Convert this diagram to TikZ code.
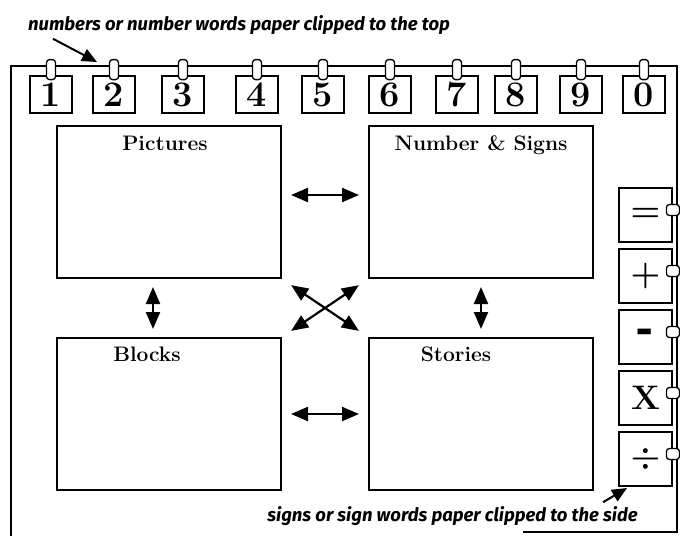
\documentclass[tikz,border=0pt]{standalone}
\usepackage{fontspec}
\newfontfamily\notefont{Fira Sans}
\usetikzlibrary{arrows.meta, positioning}

\begin{document}
\begin{tikzpicture}[x=1pt,y=-1pt,>={Triangle[length=17pt,width=14pt]}]
    \tikzstyle{panel}=[shape=rectangle,draw,line width=2pt,minimum width=224pt,minimum height=152pt,inner sep=0pt]
    \tikzstyle{title}=[font=\fontsize{21}{21}\selectfont\bfseries,inner sep=0pt,anchor=base]
    \tikzstyle{digit}=[shape=rectangle,draw,line width=1.8pt,minimum width=42pt,minimum height=37pt,inner sep=0pt,font=\fontsize{36}{36}\selectfont\bfseries]
    \tikzstyle{sign}=[shape=rectangle,draw,line width=1.8pt,minimum width=53pt,minimum height=54pt,inner sep=0pt,font=\fontsize{34}{34}\selectfont\bfseries]
    \tikzstyle{topclip}=[shape=rectangle,draw,fill=white,rounded corners=3pt,line width=1.3pt,minimum width=9pt,minimum height=20pt,inner sep=0pt]
    \tikzstyle{sideclip}=[shape=rectangle,draw,fill=white,rounded corners=3pt,line width=1.3pt,minimum width=13pt,minimum height=11pt,inner sep=0pt]
    \tikzstyle{link}=[<->,line width=2.2pt,shorten <=9pt,shorten >=9pt]
    \tikzstyle{note}=[font=\notefont\bfseries\itshape\fontsize{18.5}{18.5}\selectfont,inner sep=0pt]

    \useasboundingbox (0,0) rectangle (680,536);

    % the board
    \draw[line width=2pt] (11,536) -- (11,66) -- (677,66) -- (677,532) -- (523,532);

    % numbers on top
    \node[digit] (d1) at (51,94.5) {1};
    \node[digit] (d2) at (114,94.5) {2};
    \node[digit] (d3) at (183,94.5) {3};
    \node[digit] (d4) at (257,94.5) {4};
    \node[digit] (d5) at (323,94.5) {5};
    \node[digit] (d6) at (390,94.5) {6};
    \node[digit] (d7) at (457,94.5) {7};
    \node[digit] (d8) at (516,94.5) {8};
    \node[digit] (d9) at (581,94.5) {9};
    \node[digit] (d0) at (644,94.5) {0};
    \node[topclip] (k1) at ([yshift=5.5pt]d1.north) {};
    \node[topclip] (k2) at ([yshift=5.5pt]d2.north) {};
    \node[topclip] (k3) at ([yshift=5.5pt]d3.north) {};
    \node[topclip] (k4) at ([yshift=5.5pt]d4.north) {};
    \node[topclip] (k5) at ([yshift=5.5pt]d5.north) {};
    \node[topclip] (k6) at ([yshift=5.5pt]d6.north) {};
    \node[topclip] (k7) at ([yshift=5.5pt]d7.north) {};
    \node[topclip] (k8) at ([yshift=5.5pt]d8.north) {};
    \node[topclip] (k9) at ([yshift=5.5pt]d9.north) {};
    \node[topclip] (k0) at ([yshift=5.5pt]d0.north) {};

    % signs on the side
    \node[sign] (eq) at (645.5,215) {=};
    \node[sign] (plus) at (645.5,276) {+};
    \node[sign] (minus) at (645.5,337) {\scalebox{1.3}[1.8]{-}};
    \node[sign] (times) at (645.5,398) {X};
    \node[sign] (divide) at (645.5,459) {÷};
    \node[sideclip] (keq) at ([yshift=5pt]eq.east) {};
    \node[sideclip] (kplus) at ([yshift=5pt]plus.east) {};
    \node[sideclip] (kminus) at ([yshift=5pt]minus.east) {};
    \node[sideclip] (ktimes) at ([yshift=5pt]times.east) {};
    \node[sideclip] (kdivide) at ([yshift=5pt]divide.east) {};

    % the four panels
    \node[panel] (pictures) at (169,202) {};
    \node[panel, right=86pt of pictures] (numbers) {};
    \node[panel, below=58pt of pictures] (blocks) {};
    \node[panel, right=86pt of blocks] (stories) {};
    \node[title] (tpictures) at ([xshift=-4pt,yshift=-25pt]pictures.north) {Pictures};
    \node[title] (tnumbers) at ([yshift=-25pt]numbers.north) {Number \& Signs};
    \node[title] (tblocks) at ([xshift=-22pt,yshift=-24pt]blocks.north) {Blocks};
    \node[title] (tstories) at ([xshift=-25pt,yshift=-24pt]stories.north) {Stories};

    \draw[link] ([yshift=7pt]pictures.east) -- ([yshift=7pt]numbers.west);
    \draw[link] (blocks.east) -- (stories.west);
    \draw[link, shorten <=8pt, shorten >=8pt] ([xshift=-16pt]pictures.south) -- ([xshift=-16pt]blocks.north);
    \draw[link, shorten <=8pt, shorten >=8pt] (numbers.south) -- (stories.north);
    \draw[link, shorten <=11pt, shorten >=11pt] (pictures.south east) -- (stories.north west);
    \draw[link, shorten <=11pt, shorten >=11pt] (numbers.south west) -- (blocks.north east);

    % notes
    \node[note, anchor=west] (topnote) at (28,25) {numbers or number words paper clipped to the top};
    \coordinate (toptip) at (97,62);
    \draw[->, line width=2pt, >={Triangle[length=15pt,width=13pt]}] ([xshift=25pt,yshift=-4pt]topnote.south west) -- (toptip);
    \node[note, anchor=east] (sidenote) at (638,516) {signs or sign words paper clipped to the side};
    \coordinate (sidetip) at (627,488);
    \draw[->, line width=2pt, >={Triangle[length=15pt,width=13pt]}] ([xshift=-35pt,yshift=4pt]sidenote.north east) -- (sidetip);
\end{tikzpicture}
\end{document}
